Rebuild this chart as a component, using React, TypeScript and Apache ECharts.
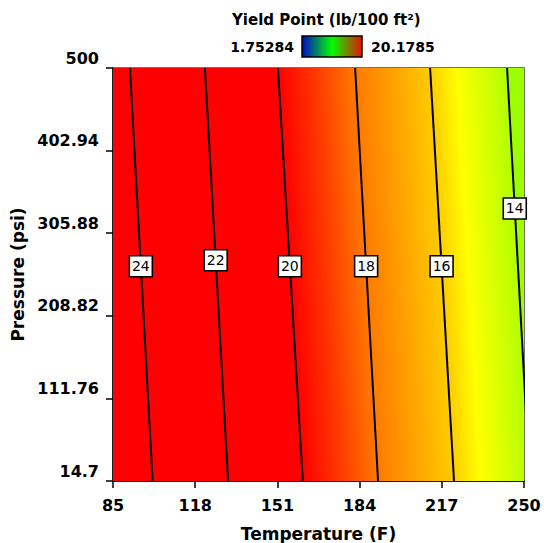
import React, { useEffect, useRef } from "react";
import * as echarts from "echarts";

// Axis ticks
const xTicks = [85, 118, 151, 184, 217, 250];
const yTicks = [14.7, 111.76, 208.82, 305.88, 402.94, 500];

// Contour lines: level, temperature where the line meets P=500 (top) and P=14.7 (bottom)
const contourLevels = [24, 22, 20, 18, 16, 14];
const tempAtTop = [91.8, 121.9, 151.2, 182.2, 212.3, 243.2];
const tempAtBottom = [100.9, 131.2, 161.2, 191.4, 221.9, 252.3];
// Pressure at which each contour label sits
const labelPressure = [267, 274, 267, 267, 267, 335];

// Colour ramp of the surface (values between 20 and 14)
const rampValues = [20, 19, 18, 17, 16, 15.3, 14];
const rampColors = ["#ff0000", "#ff3a00", "#ff7a00", "#ffa200", "#ffcc00", "#ffff00", "#b2ff00"];
const highColor = "#ff0000";
const lowColor = "#9cff00";

// Legend
const legendTitle = "Yield Point (lb/100 ft\u00b2)";
const legendMin = "1.75284";
const legendMax = "20.1785";

const X_MIN = 85, X_MAX = 250, Y_MIN = 14.7, Y_MAX = 500;
const FONT = "DejaVu Sans";

function hexToRgb(h: string) {
  const n = parseInt(h.slice(1), 16);
  return [(n >> 16) & 255, (n >> 8) & 255, n & 255];
}
function colorAt(v: number): string {
  if (v >= rampValues[0]) return rampColors[0];
  const last = rampValues.length - 1;
  if (v <= rampValues[last]) return rampColors[last];
  for (let i = 0; i < last; i++) {
    const a = rampValues[i], b = rampValues[i + 1];
    if (v <= a && v >= b) {
      const t = (a - v) / (a - b);
      const ca = hexToRgb(rampColors[i]), cb = hexToRgb(rampColors[i + 1]);
      const c = ca.map((x, k) => Math.round(x + (cb[k] - x) * t));
      return `rgb(${c[0]},${c[1]},${c[2]})`;
    }
  }
  return rampColors[last];
}

export default function App() {
  const ref = useRef<HTMLDivElement>(null);
  useEffect(() => {
    if (!ref.current) return;
    const chart = echarts.init(ref.current, null, { renderer: "svg" });

    const n = contourLevels.length;
    const bands: any[] = [];
    for (let i = -1; i < n; i++) {
      const lt = i < 0 ? X_MIN : tempAtTop[i];
      const lb = i < 0 ? X_MIN : tempAtBottom[i];
      const rt = i + 1 >= n ? X_MAX : tempAtTop[i + 1];
      const rb = i + 1 >= n ? X_MAX : tempAtBottom[i + 1];
      bands.push([lt, lb, rt, rb, i]);
    }

    const renderBand = (params: any, api: any) => {
      const idx = api.value(4);
      const lt = api.coord([api.value(0), Y_MAX]);
      const lb = api.coord([api.value(1), Y_MIN]);
      const rt = api.coord([api.value(2), Y_MAX]);
      const rb = api.coord([api.value(3), Y_MIN]);
      let fill: any;
      if (idx < 0) fill = highColor;
      else if (idx + 1 >= n) fill = lowColor;
      else {
        const hi = contourLevels[idx], lo = contourLevels[idx + 1];
        if (lo >= rampValues[0]) fill = highColor;
        else {
          const stops: any[] = [{ offset: 0, color: colorAt(hi) }];
          rampValues.forEach((v, k) => {
            if (v < hi && v > lo) stops.push({ offset: (hi - v) / (hi - lo), color: rampColors[k] });
          });
          stops.push({ offset: 1, color: colorAt(lo) });
          const Lm = [(lt[0] + lb[0]) / 2, (lt[1] + lb[1]) / 2];
          const Rm = [(rt[0] + rb[0]) / 2, (rt[1] + rb[1]) / 2];
          let dx = lt[0] - lb[0], dy = lt[1] - lb[1];
          const len = Math.hypot(dx, dy);
          dx /= len; dy /= len;
          const vx = Rm[0] - Lm[0], vy = Rm[1] - Lm[1];
          const dot = vx * dx + vy * dy;
          const px = vx - dot * dx, py = vy - dot * dy;
          fill = {
            type: "linear", x: Lm[0], y: Lm[1], x2: Lm[0] + px, y2: Lm[1] + py,
            colorStops: stops, global: true,
          };
        }
      }
      return { type: "polygon", shape: { points: [lt, rt, rb, lb] }, style: { fill, stroke: null } };
    };

    const lineSeries = contourLevels.map((lv, i) => ({
      type: "line",
      name: "c" + lv,
      data: [[tempAtTop[i], Y_MAX], [tempAtBottom[i], Y_MIN]],
      showSymbol: false,
      symbol: "none",
      lineStyle: { color: "#000", width: 2 },
      z: 5,
      silent: true,
    }));

    const labelData = contourLevels.map((lv, i) => {
      const p = labelPressure[i];
      const t = tempAtBottom[i] + (tempAtTop[i] - tempAtBottom[i]) * (p - Y_MIN) / (Y_MAX - Y_MIN);
      return [t, p, lv];
    });

    const tickStyle = { fontFamily: FONT, fontWeight: "bold", fontSize: 16, color: "#000" };
    const nameStyle = { fontFamily: FONT, fontWeight: "bold", fontSize: 17, color: "#000" };

    chart.setOption({
      animation: false,
      grid: {
        left: 113, right: 20, top: 68, bottom: 62, show: true, borderColor: "#444", borderWidth: 1.5,
        backgroundColor: "transparent", containLabel: false, outerBoundsMode: "none",
      },
      xAxis: {
        type: "value", min: X_MIN, max: X_MAX,
        name: "Temperature (F)", nameLocation: "middle", nameGap: 44,
        nameTextStyle: nameStyle,
        axisLine: { show: true, onZero: false, lineStyle: { color: "#000", width: 1.5 } },
        axisTick: { show: true, length: 7, customValues: xTicks, lineStyle: { color: "#000", width: 1.5 } },
        axisLabel: { customValues: xTicks, margin: 16, formatter: (v: number) => String(v), ...tickStyle },
        splitLine: { show: false },
      },
      yAxis: {
        type: "value", min: Y_MIN, max: Y_MAX,
        name: "Pressure (psi)", nameLocation: "middle", nameGap: 82,
        nameTextStyle: nameStyle,
        axisLine: { show: true, onZero: false, lineStyle: { color: "#000", width: 1.5 } },
        axisTick: { show: true, length: 7, customValues: yTicks, lineStyle: { color: "#000", width: 1.5 } },
        axisLabel: {
          customValues: yTicks, margin: 14, verticalAlign: "bottom", lineHeight: 20,
          formatter: (v: number) => String(v), ...tickStyle,
        },
        splitLine: { show: false },
      },
      series: [
        { type: "custom", renderItem: renderBand, data: bands, clip: true, z: 1, silent: true, encode: { x: [0, 1, 2, 3] } },
        ...lineSeries,
        {
          type: "scatter", data: labelData, symbol: "rect", symbolSize: [23, 21], z: 10, silent: true,
          itemStyle: { color: "#fff", borderColor: "#000", borderWidth: 1.5, opacity: 1 },
          label: { show: true, position: "inside", formatter: (p: any) => String(p.value[2]), color: "#000", fontSize: 14, fontFamily: FONT },
        },
      ],
      graphic: [
        { type: "text", x: 232, y: 20, style: { text: legendTitle, font: `bold 15px '${FONT}'`, fill: "#000", align: "left", verticalAlign: "middle" } },
        { type: "text", x: 294, y: 47, style: { text: legendMin, font: `bold 14px '${FONT}'`, fill: "#000", align: "right", verticalAlign: "middle" } },
        {
          type: "rect", shape: { x: 302, y: 36, width: 60, height: 21 },
          style: {
            fill: { type: "linear", x: 0, y: 0, x2: 1, y2: 0, colorStops: [
              { offset: 0, color: "#0008c8" }, { offset: 0.5, color: "#00ff00" }, { offset: 1, color: "#e81000" } ] },
            stroke: "#000", lineWidth: 1.5,
          },
        },
        { type: "text", x: 371, y: 47, style: { text: legendMax, font: `bold 14px '${FONT}'`, fill: "#000", align: "left", verticalAlign: "middle" } },
      ],
    });
    return () => chart.dispose();
  }, []);
  return <div ref={ref} style={{ position: "absolute", left: 0, top: 0, width: 544, height: 543 }} />;
}
